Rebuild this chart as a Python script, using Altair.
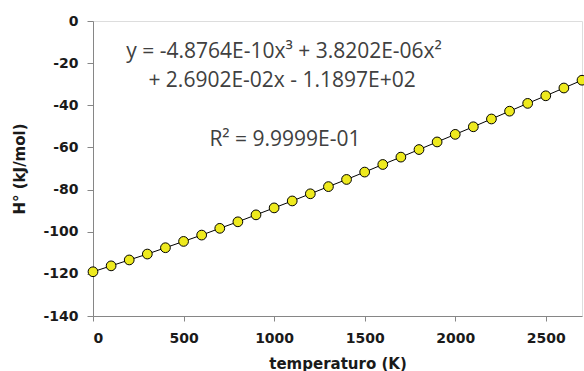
import altair as alt
import pandas as pd

temperature = [0, 100, 200, 300, 400, 500, 600, 700, 800, 900, 1000, 1100, 1200, 1300,
               1400, 1500, 1600, 1700, 1800, 1900, 2000, 2100, 2200, 2300, 2400, 2500,
               2600, 2700]
enthalpy = [-119.0, -116.2, -113.4, -110.6, -107.6, -104.6, -101.6, -98.4, -95.3, -92.0,
            -88.7, -85.4, -82.0, -78.6, -75.2, -71.7, -68.1, -64.6, -61.0, -57.4,
            -53.8, -50.2, -46.5, -42.8, -39.1, -35.5, -31.8, -28.1]

notes = ["y = -4.8764E-10x³ + 3.8202E-06x²", "+ 2.6902E-02x - 1.1897E+02", "R² = 9.9999E-01"]
note_x = [1055, 1044, 1060]
note_y = [-14.7, -28.5, -56.5]

df = pd.DataFrame({"T": temperature, "H": enthalpy})
nd = pd.DataFrame({"t": notes, "x": note_x, "y": note_y})

FONT = "DejaVu Sans"
NOTE_FONT = "Open Sans"
xs = alt.Scale(domain=[0, 2700], nice=False, zero=False)
ys = alt.Scale(domain=[-140, 0], nice=False)

label_expr = "replace(format(datum.value, 'd'), '−', '-')"

xaxis = alt.Axis(values=[0, 500, 1000, 1500, 2000, 2500], title="temperaturo (K)",
                 labelExpr=label_expr,
                 grid=False, domainColor="#868686", tickColor="#868686", tickSize=5,
                 labelFont=FONT, labelFontSize=14, labelFontWeight="bold", labelColor="#1a1a1a",
                 labelPadding=10, titleFont=FONT, titleFontSize=15, titleFontWeight="bold",
                 titleColor="#1a1a1a", titlePadding=11)
yaxis = alt.Axis(values=list(range(-140, 1, 20)), title="H° (kJ/mol)",
                 labelExpr=label_expr,
                 grid=False, domainColor="#868686", tickColor="#868686", tickSize=6,
                 labelFont=FONT, labelFontSize=14, labelFontWeight="bold", labelColor="#1a1a1a",
                 labelPadding=9, titleFont=FONT, titleFontSize=15, titleFontWeight="bold",
                 titleColor="#1a1a1a", titlePadding=15)

line = alt.Chart(df).mark_line(color="black", strokeWidth=1, clip=True).encode(
    x=alt.X("T:Q", scale=xs, axis=xaxis),
    y=alt.Y("H:Q", scale=ys, axis=yaxis),
)
pts = alt.Chart(df).mark_point(filled=True, fill="#eeea1e", stroke="black", strokeWidth=1,
                               opacity=1, size=95).encode(
    x=alt.X("T:Q", scale=xs),
    y=alt.Y("H:Q", scale=ys),
)
txt = alt.Chart(nd).mark_text(font=NOTE_FONT, fontSize=21, color="#404040", align="center",
                              baseline="middle").encode(
    x=alt.X("x:Q", scale=xs),
    y=alt.Y("y:Q", scale=ys),
    text="t:N",
)

chart = (line + pts + txt).properties(
    width=489, height=295,
    autosize=alt.AutoSizeParams(type="none"),
    padding={"left": 93, "top": 21, "right": 2, "bottom": 55},
).configure_view(stroke="black", strokeWidth=1).configure(background="white")

chart.save("out.html", embed_options={"renderer": "svg", "actions": False})
